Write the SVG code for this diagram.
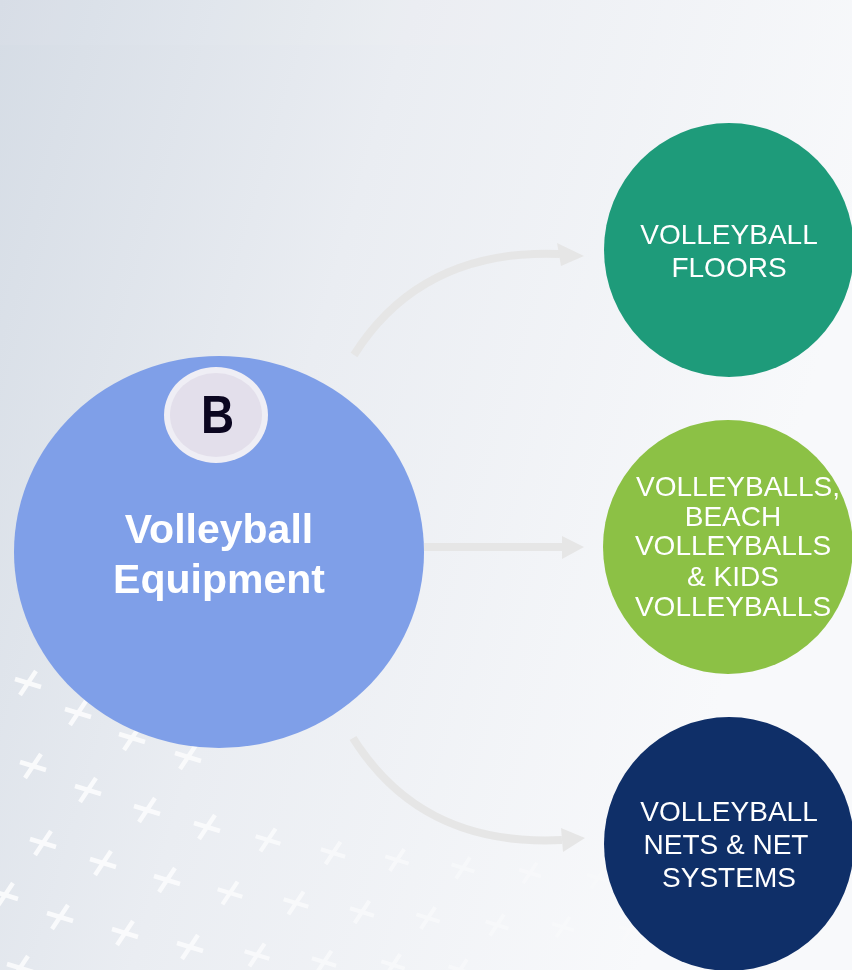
<svg xmlns="http://www.w3.org/2000/svg" width="852" height="970" viewBox="0 0 852 970">
<defs>
<linearGradient id="bg" x1="0" y1="0" x2="852" y2="250" gradientUnits="userSpaceOnUse">
<stop offset="0" stop-color="#d5dce5"/>
<stop offset="0.45" stop-color="#eaedf2"/>
<stop offset="1" stop-color="#f8f9fb"/>
</linearGradient>
<g id="x"><path d="M-8,12 L8,-12 M-13,-4 L13,4" stroke="#ffffff" stroke-width="4.5" fill="none"/></g>
<style>
.lbl{font-family:"Liberation Sans",Arial,sans-serif;fill:#ffffff;text-anchor:middle}
.arr{fill:none;stroke:#e6e6e6;stroke-width:8}
.head{fill:#e6e6e6}
</style>
</defs>
<rect width="852" height="970" fill="url(#bg)"/>
<rect width="852" height="45" fill="#ffffff" opacity="0.05"/>
<g id="pattern" opacity="0.88">
<use href="#x" transform="translate(28,683)" opacity="0.9"/>
<use href="#x" transform="translate(78,713)" opacity="0.9"/>
<use href="#x" transform="translate(132,738)" opacity="0.85"/>
<use href="#x" transform="translate(188,757)" opacity="0.8"/>
<use href="#x" transform="translate(33,766)" opacity="0.9"/>
<use href="#x" transform="translate(88,790)" opacity="0.88"/>
<use href="#x" transform="translate(147,810)" opacity="0.85"/>
<use href="#x" transform="translate(207,827)" opacity="0.8"/>
<use href="#x" transform="translate(268,840) scale(0.95)" opacity="0.72"/>
<use href="#x" transform="translate(333,853) scale(0.93)" opacity="0.6"/>
<use href="#x" transform="translate(397,860) scale(0.9)" opacity="0.5"/>
<use href="#x" transform="translate(463,868) scale(0.88)" opacity="0.4"/>
<use href="#x" transform="translate(530,873) scale(0.85)" opacity="0.3"/>
<use href="#x" transform="translate(598,878) scale(0.85)" opacity="0.18"/>
<use href="#x" transform="translate(-14,822)" opacity="0.9"/>
<use href="#x" transform="translate(43,843)" opacity="0.9"/>
<use href="#x" transform="translate(103,863)" opacity="0.88"/>
<use href="#x" transform="translate(167,880)" opacity="0.82"/>
<use href="#x" transform="translate(230,893) scale(0.95)" opacity="0.75"/>
<use href="#x" transform="translate(296,903) scale(0.95)" opacity="0.66"/>
<use href="#x" transform="translate(362,912) scale(0.92)" opacity="0.56"/>
<use href="#x" transform="translate(428,918) scale(0.9)" opacity="0.46"/>
<use href="#x" transform="translate(497,925) scale(0.88)" opacity="0.36"/>
<use href="#x" transform="translate(563,927) scale(0.85)" opacity="0.26"/>
<use href="#x" transform="translate(630,930) scale(0.85)" opacity="0.15"/>
<use href="#x" transform="translate(5,895)" opacity="0.9"/>
<use href="#x" transform="translate(60,917)" opacity="0.88"/>
<use href="#x" transform="translate(125,933)" opacity="0.85"/>
<use href="#x" transform="translate(190,947)" opacity="0.8"/>
<use href="#x" transform="translate(257,955) scale(0.95)" opacity="0.7"/>
<use href="#x" transform="translate(324,962) scale(0.93)" opacity="0.6"/>
<use href="#x" transform="translate(393,965) scale(0.9)" opacity="0.5"/>
<use href="#x" transform="translate(460,970) scale(0.88)" opacity="0.4"/>
<use href="#x" transform="translate(20,968)" opacity="0.85"/>
<use href="#x" transform="translate(85,985)" opacity="0.85"/>
</g>
<g id="connectors">
<path class="arr" d="M354,355 C395,290 460,250 560,254"/>
<polygon class="head" points="557,243 584,256 561,266"/>
<path class="arr" d="M424,547 L563,547"/>
<polygon class="head" points="562,536 584,547 562,559"/>
<path class="arr" d="M353,738 C395,805 460,845 562,840"/>
<polygon class="head" points="561,828 585,838 563,852"/>
</g>
<g id="main">
<ellipse cx="219" cy="552" rx="205" ry="196" fill="#7f9fe8"/>
<text class="lbl" x="219" y="543" font-size="41" font-weight="bold">Volleyball</text>
<text class="lbl" x="219" y="593" font-size="41" font-weight="bold">Equipment</text>
</g>
<g id="badge">
<ellipse cx="216" cy="415" rx="52" ry="48" fill="#efeef5"/>
<ellipse cx="216" cy="415" rx="46" ry="42" fill="#e3dfeb"/>
<text transform="translate(217.5,433) scale(0.85,1)" x="0" y="0" font-family="Liberation Sans,Arial,sans-serif" font-size="54" font-weight="bold" fill="#0b0620" text-anchor="middle">B</text>
</g>
<g id="floors">
<ellipse cx="729" cy="250" rx="125" ry="127" fill="#1e9b7a"/>
<text class="lbl" x="729" y="244" font-size="28">VOLLEYBALL</text>
<text class="lbl" x="729" y="277" font-size="28">FLOORS</text>
</g>
<g id="balls">
<ellipse cx="728" cy="547" rx="125" ry="127" fill="#8cc145"/>
<text class="lbl" x="738" y="496" font-size="28">VOLLEYBALLS,</text>
<text class="lbl" x="733" y="526" font-size="28">BEACH</text>
<text class="lbl" x="733" y="555" font-size="28">VOLLEYBALLS</text>
<text class="lbl" x="733" y="586" font-size="28">&amp; KIDS</text>
<text class="lbl" x="733" y="616" font-size="28">VOLLEYBALLS</text>
</g>
<g id="nets">
<ellipse cx="729" cy="844" rx="125" ry="127" fill="#0f2f68"/>
<text class="lbl" x="729" y="821" font-size="28">VOLLEYBALL</text>
<text class="lbl" x="726" y="854" font-size="28">NETS &amp; NET</text>
<text class="lbl" x="729" y="887" font-size="28">SYSTEMS</text>
</g>
</svg>
